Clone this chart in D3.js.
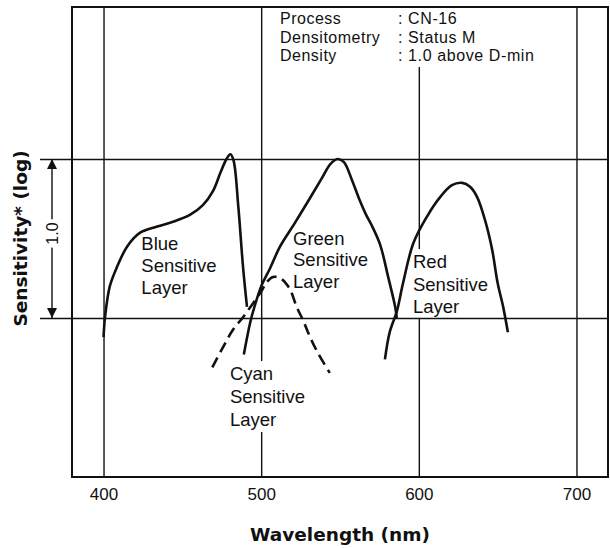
<!DOCTYPE html>
<html>
<head>
<meta charset="utf-8">
<script src="https://cdn.jsdelivr.net/npm/d3@7"></script>
<style>
  body { margin: 0; background: #fff; }
  text { font-family: "Liberation Sans", Arial, sans-serif; fill: #111; }
  .title { font-family: "DejaVu Sans", sans-serif; font-weight: bold; font-size: 18.5px; }
</style>
</head>
<body>
<div id="graph"></div>
<script>
// curves: [wavelength nm, log sensitivity rel. to lower line]
var blueCurve = [[400,-0.12],[401,0.01],[404,0.2],[408.5,0.32],[415,0.45],[423,0.535],[434,0.575],[444,0.605],
    [455,0.65],[463,0.71],[469.5,0.8],[474,0.91],[478,1.0],[480.5,1.03],[482.5,0.99],[485.5,0.7],[488.5,0.32],[491,0.07]];
var greenCurve = [[489,-0.23],[493,-0.03],[496,0.08],[500.5,0.21],[505.5,0.31],[512,0.45],[521.5,0.6],[531,0.755],
    [538.5,0.88],[544,0.97],[548.5,1.0],[552.5,0.98],[557.5,0.87],[562.5,0.74],[566.5,0.65],[570,0.585],
    [575.5,0.46],[580.5,0.26],[585,0.07],[586,0.0]];
var redCurve = [[578.5,-0.26],[581.5,-0.09],[586,0.04],[590,0.22],[596.5,0.47],[605,0.635],[613.5,0.76],[621,0.835],
    [627.5,0.85],[632.5,0.825],[637,0.76],[642,0.615],[646.5,0.43],[650,0.22],[653.5,0.07],[656.5,-0.09]];
var cyanCurve = [[469,-0.31],[476,-0.18],[482,-0.075],[488.5,0.005],[495,0.095],[500.5,0.175],[503.5,0.225],
    [507.5,0.258],[512,0.252],[515,0.226],[518.5,0.176],[522.5,0.07],[526.5,-0.013],[531,-0.12],[536,-0.22],[543.5,-0.345]];
var xTicks = [400, 500, 600, 700];
var yLevels = [0, 1];
var layerNames = ["Blue", "Green", "Red", "Cyan"];
var infoKeys = ["Process", "Densitometry", "Density"];
var infoValues = ["CN-16", "Status M", "1.0 above D-min"];

var margin = {top: 7, right: 2, bottom: 71, left: 72},
    width = 610 - margin.left - margin.right,
    height = 548 - margin.top - margin.bottom;

var svg = d3.select("#graph").append("svg")
    .attr("width", 610).attr("height", 548)
    .append("g")
    .attr("transform", "translate(" + margin.left + "," + margin.top + ")");

var xScale = d3.scaleLinear().domain([380, 720]).range([0, width]);
var yScale = d3.scaleLinear().domain([-1, 1.956]).range([height, 0]);

// vertical grid
svg.append("g")
    .attr("class", "grid")
    .attr("transform", "translate(0," + height + ")")
    .call(d3.axisBottom(xScale).tickValues(xTicks).tickSize(-height).tickFormat(""))
    .call(g => g.select(".domain").remove())
    .call(g => g.selectAll("line").attr("stroke", "#111").attr("stroke-width", 1.4));

// tick labels
svg.append("g")
    .attr("transform", "translate(0," + height + ")")
    .call(d3.axisBottom(xScale).tickValues(xTicks).tickSize(0).tickPadding(11))
    .call(g => g.select(".domain").remove())
    .call(g => g.selectAll("text").attr("font-size", "17px").attr("font-family", "Liberation Sans, Arial, sans-serif").attr("fill", "#111"));

// white-backed text helper
function maskedText(g, pad) {
    var bb = g.node().getBBox();
    g.insert("rect", ":first-child")
        .attr("x", bb.x - pad).attr("y", bb.y - pad)
        .attr("width", bb.width + 2 * pad).attr("height", bb.height + 2 * pad)
        .attr("fill", "#fff");
}

// info block
var info = svg.append("g");
infoKeys.forEach(function(k, i) {
    var yy = 17 + i * 18.5;
    info.append("text").attr("x", 208).attr("y", yy).style("font-size", "16px")
        .style("letter-spacing", "0.5px").text(k);
    info.append("text").attr("x", 326).attr("y", yy).style("font-size", "16px")
        .style("letter-spacing", "0.6px").text(": " + infoValues[i]);
});
maskedText(info, 3);

// layer labels
var labelPos = [[424, 0.428, 22], [520.2, 0.46, 21.5], [596.3, 0.314, 22.5], [480.2, -0.39, 23]];
layerNames.forEach(function(n, i) {
    var p = labelPos[i];
    var g = svg.append("g");
    [n, "Sensitive", "Layer"].forEach(function(t, j) {
        g.append("text")
            .attr("x", xScale(p[0]))
            .attr("y", yScale(p[1]) + j * p[2])
            .style("font-size", "18.5px")
            .text(t);
    });
    if (n == "Red" || n == "Cyan") maskedText(g, 2);
});

// the two reference levels, running out past the frame
svg.append("g")
    .attr("transform", "translate(-32,0)")
    .call(d3.axisLeft(yScale).tickValues(yLevels).tickSize(-(width + 32)).tickFormat(""))
    .call(g => g.select(".domain").remove())
    .call(g => g.selectAll("line").attr("stroke", "#111").attr("stroke-width", 1.4));

// curves
var line = d3.line()
    .x(function(d) { return xScale(d[0]); })
    .y(function(d) { return yScale(d[1]); })
    .curve(d3.curveCatmullRom.alpha(0.5));

[blueCurve, greenCurve, redCurve].forEach(function(c) {
    svg.append("path").datum(c)
        .attr("d", line)
        .attr("fill", "none").attr("stroke", "#111").attr("stroke-width", 2.6);
});
svg.append("path").datum(cyanCurve)
    .attr("d", line)
    .attr("fill", "none").attr("stroke", "#111").attr("stroke-width", 2.6)
    .attr("stroke-dasharray", "11,6");

// frame
svg.append("rect")
    .attr("x", 0).attr("y", 0).attr("width", width).attr("height", height)
    .attr("fill", "none").attr("stroke", "#111").attr("stroke-width", 2);

// 1.0 arrow
var defs = svg.append("defs");
defs.append("marker").attr("id", "ah").attr("viewBox", "0 0 10 10")
    .attr("refX", 10).attr("refY", 5).attr("markerWidth", 10).attr("markerHeight", 10)
    .attr("markerUnits", "userSpaceOnUse").attr("orient", "auto-start-reverse")
    .append("path").attr("d", "M0,0 L10,5 L0,10 Z").attr("fill", "#111");
svg.append("line")
    .attr("x1", -20).attr("x2", -20)
    .attr("y1", yScale(1)).attr("y2", yScale(0))
    .attr("stroke", "#111").attr("stroke-width", 1.4)
    .attr("marker-start", "url(#ah)").attr("marker-end", "url(#ah)");
var one = svg.append("g").attr("transform", "translate(-20," + (yScale(0.5) - 5) + ") rotate(-90)");
one.append("text").attr("text-anchor", "middle").attr("dy", "0.36em")
    .style("font-size", "16px").text("1.0");
maskedText(one, 3);

// axis titles
svg.append("text")
    .attr("class", "title")
    .attr("x", width / 2).attr("y", height + 64)
    .attr("text-anchor", "middle")
    .text("Wavelength (nm)");
svg.append("text")
    .attr("class", "title")
    .attr("transform", "translate(-52," + yScale(0.5) + ") rotate(-90)")
    .attr("text-anchor", "middle").attr("dy", "0.36em")
    .text("Sensitivity* (log)");
</script>
</body>
</html>
